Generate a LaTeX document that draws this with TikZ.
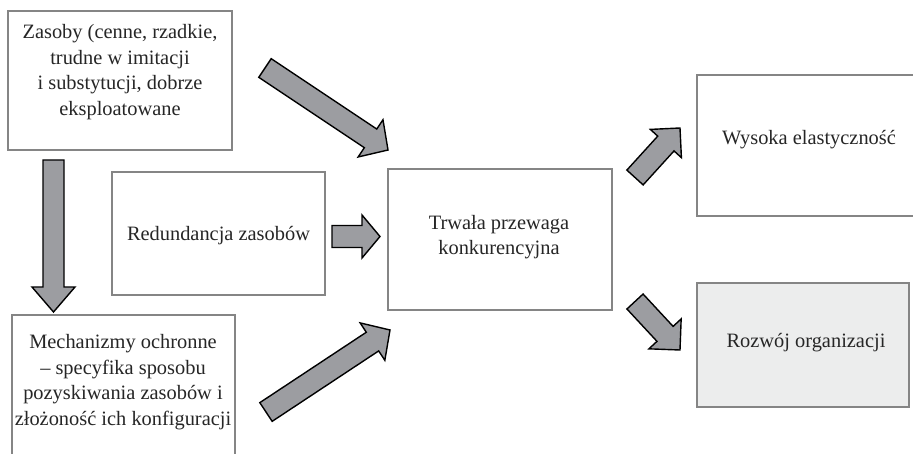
\documentclass[tikz,border=0pt]{standalone}
\usepackage{fontspec}
\setmainfont{Liberation Serif}
\usetikzlibrary{calc}
\definecolor{boxline}{HTML}{858585}
\definecolor{arrowfill}{HTML}{9C9DA1}
\definecolor{lightfill}{HTML}{ECEDED}
\tikzset{
  box/.style={draw=boxline, line width=1.6pt, fill=white},
  txt/.style={align=center, inner sep=0pt, font=\fontsize{20.4}{25.5}\selectfont, text=black!85},
  barrow/.style={draw=black, line width=1.4pt, fill=arrowfill, line join=miter}
}
\newcommand\blockarrow[5]{%
  \coordinate (#1h) at ($(#2)!#5!(#1)$);
  \draw[barrow] ($(#1)!#3!90:(#2)$) -- ($(#1h)!#3!90:(#2)$) -- ($(#1h)!#4!90:(#2)$) -- (#2)
    -- ($(#1h)!#4!-90:(#2)$) -- ($(#1h)!#3!-90:(#2)$) -- ($(#1)!#3!-90:(#2)$) -- cycle;}
\begin{document}
\begin{tikzpicture}[x=1pt,y=-1pt]
\useasboundingbox (0,0) rectangle (913,454);
\clip (0,0) rectangle (913,454);
% boxes
\draw[box] (8,11) rectangle (232,150);
\node[txt] (zasoby) at (120,72) {Zasoby (cenne, rzadkie,\\trudne w imitacji\\i substytucji, dobrze\\eksploatowane};
\draw[box] (12,315) rectangle (235,475);
\node[txt] (mech) at (123,382) {Mechanizmy ochronne\\– specyfika sposobu\\pozyskiwania zasobów i\\złożoność ich konfiguracji};
\draw[box] (112,172) rectangle (325,295);
\node[txt] (red) at (218.5,236) {Redundancja zasobów};
\draw[box] (388,169) rectangle (612,310);
\node[txt] (trw) at (499,237) {Trwała przewaga\\konkurencyjna};
\draw[box] (697,75) rectangle (921,216);
\node[txt] (wys) at (809,140) {Wysoka elastyczność};
\draw[box, fill=lightfill] (697,283) rectangle (909,407);
\node[txt] (roz) at (806,343) {Rozwój organizacji};
% arrows
\coordinate (a1t) at (53.5,160); \coordinate (a1p) at (53.5,312);
\blockarrow{a1t}{a1p}{10.5pt}{21.5pt}{25pt}
\coordinate (a2t) at (332,236.5); \coordinate (a2p) at (380,236.5);
\blockarrow{a2t}{a2p}{11pt}{21.5pt}{18pt}
\coordinate (a3t) at (265,68); \coordinate (a3p) at (388,150);
\blockarrow{a3t}{a3p}{11.2pt}{22.4pt}{21pt}
\coordinate (a4t) at (266,412); \coordinate (a4p) at (390,330);
\blockarrow{a4t}{a4p}{11.2pt}{22.4pt}{21pt}
\coordinate (a5t) at (635,177.5); \coordinate (a5p) at (680,128);
\blockarrow{a5t}{a5p}{11pt}{21pt}{21pt}
\coordinate (a6t) at (635,301.5); \coordinate (a6p) at (680,350);
\blockarrow{a6t}{a6p}{11pt}{22pt}{22pt}
\end{tikzpicture}
\end{document}
